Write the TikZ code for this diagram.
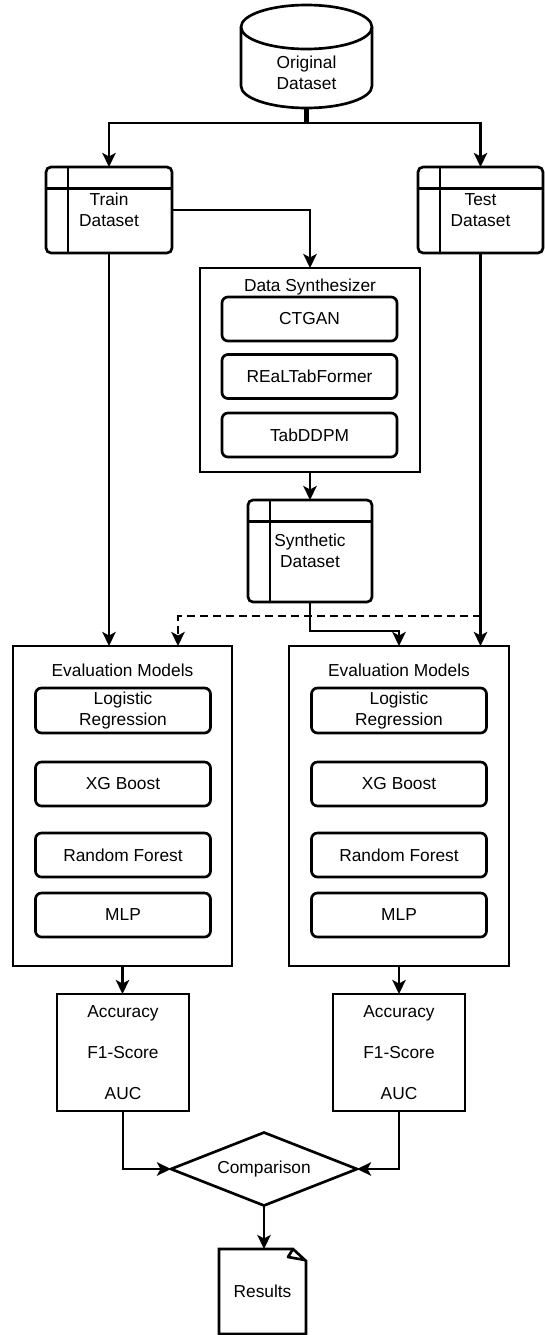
\documentclass[tikz,border=0pt]{standalone}
\usepackage{fontspec}
\setmainfont{Liberation Sans}
\usetikzlibrary{arrows.meta,shapes.geometric,calc}
\def\u{0.75pt}
\begin{document}
\begin{tikzpicture}[x=0.75pt,y=-0.75pt,
  every node/.style={font=\fontsize{13pt}{15.5pt}\selectfont, inner sep=0pt, outer sep=0pt, align=center},
  ln/.style={line width=2pt},
  arr/.style={ln, -{Stealth[length=10.5pt,width=10pt,inset=2.6pt]}},
  dsh/.style={dash pattern=on 6pt off 3.75pt},
  dbox/.style={draw, ln, rounded corners=3.75pt, minimum width={#1*\u}, minimum height={86*\u},
    path picture={
      \draw[line width=2pt] ([xshift={22*\u}]path picture bounding box.north west) -- ([xshift={22*\u}]path picture bounding box.south west);
      \draw[line width=2pt] ([yshift={-21.5*\u}]path picture bounding box.north west) -- ([yshift={-21.5*\u}]path picture bounding box.north east);
    }},
  ibox/.style={draw, ln, rounded corners=4.5pt, minimum width={175*\u}, minimum height={44*\u}},
  cbox/.style={draw, ln, minimum width={#1*\u}},
  mbox/.style={draw, ln, minimum width={132*\u}, minimum height={117*\u}}
]
\useasboundingbox (0,0) rectangle (544,1335);

% cylinder
\draw[ln, fill=white] (241,27) -- (241,86) arc[start angle=180,end angle=0,x radius=65.5,y radius=22] -- (372,27) arc[start angle=0,end angle=-180,x radius=65.5,y radius=22] -- cycle;
\draw[ln] (241,27) arc[start angle=180,end angle=0,x radius=65.5,y radius=22];
\node[minimum width={131*\u}, minimum height={70*\u}] (orig) at (306.5,73) {Original\\Dataset};

\node[dbox=126] (train) at (109,210) {Train\\Dataset};
\node[dbox=125] (test) at (480.5,210) {Test\\Dataset};

\node[cbox=220, minimum height={204*\u}] (synth) at (310,370) {};
\node (synthT) at (310,287) {Data Synthesizer};
\node[ibox] (ctgan) at (309.5,319) {CTGAN};
\node[ibox] (real) at (309.5,376.5) {REaLTabFormer};
\node[ibox] (tabddpm) at (309.5,435) {TabDDPM};

\node[dbox=124, minimum height={102*\u}] (synthd) at (310,551) {Synthetic\\Dataset};

\node[cbox=219, minimum height={320*\u}] (evalL) at (122.5,806) {};
\node (evalLT) at (122.5,670) {Evaluation Models};
\node[ibox, minimum height={45*\u}] (lrL) at (123,710.5) {Logistic\\Regression};
\node[ibox] (xgL) at (123,784) {XG Boost};
\node[ibox] (rfL) at (123,855) {Random Forest};
\node[ibox] (mlpL) at (123,915) {MLP};

\node[cbox=220, minimum height={320*\u}] (evalR) at (399,806) {};
\node (evalRT) at (399,670) {Evaluation Models};
\node[ibox, minimum height={45*\u}] (lrR) at (399,710.5) {Logistic\\Regression};
\node[ibox] (xgR) at (399,784) {XG Boost};
\node[ibox] (rfR) at (399,855) {Random Forest};
\node[ibox] (mlpR) at (399,915) {MLP};

\node[mbox] (metL) at (123,1052.5) {Accuracy\\[15.5pt]F1-Score\\[15.5pt]AUC};
\node[mbox] (metR) at (399,1052.5) {Accuracy\\[15.5pt]F1-Score\\[15.5pt]AUC};

\node[draw, ln, diamond, aspect=2.55, minimum width={186*\u}, minimum height={73*\u}] (cmp) at (264,1169) {Comparison};

\node[minimum width={87*\u}, minimum height={85*\u}] (res) at (262.5,1291.5) {Results};
\draw[ln, line join=miter] (res.south west) -- (res.north west) -- ($(res.north east)+(-13,0)$) -- ($(res.north east)+(0,12)$) -- (res.south east) -- cycle;
\draw[ln, line join=round] ($(res.north east)+(-13,0)$) -- ($(res.north east)+(-18,8)$) -- ($(res.north east)+(-1,11)$);

% connectors
\coordinate (j) at (306.5,123);
\draw[line width=3.2pt] (orig.south) -- (j);
\draw[arr] (j) -| (train.north);
\draw[arr] (j) -| (test.north);
\draw[arr] (train.east) -| (synth.north);
\draw[arr] (synth.south) -- (synthd.north);
\draw[arr] (train.south) -- (train.south |- evalL.north);
\draw[arr] (test.south) -- (test.south |- evalR.north);
\coordinate (d1) at (480.5,616);
\coordinate (d2) at (178,616);
\draw[arr, dsh] (d1) -- (d2) -- (d2 |- evalL.north);
\coordinate (s1) at (310,631);
\draw[arr] (synthd.south) -- (s1) -| (evalR.north);
\draw[arr] (evalL.south) -- (evalL.south |- metL.north);
\draw[arr] (evalR.south) -- (evalR.south |- metR.north);
\draw[arr] (metL.south) |- (cmp.west);
\draw[arr] (metR.south) |- (cmp.east);
\draw[arr] (cmp.south) -- (cmp.south |- res.north);
\end{tikzpicture}
\end{document}
